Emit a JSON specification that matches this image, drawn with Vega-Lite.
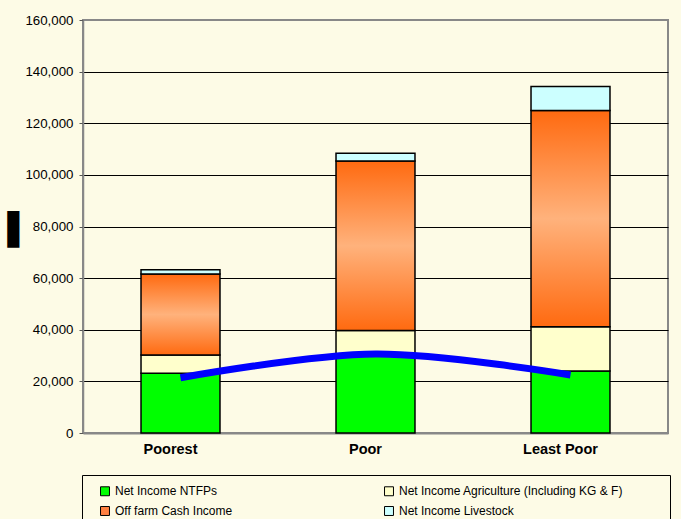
{
  "$schema": "https://vega.github.io/schema/vega-lite/v6.json",
  "autosize": "none",
  "width": 585,
  "height": 413,
  "padding": {"left": 83, "top": 20, "right": 13, "bottom": 86},
  "background": "#FDFBE6",
  "config": {
    "view": {"stroke": "#888888", "strokeWidth": 2},
    "font": "Liberation Sans, Arial, sans-serif"
  },
  "datasets": {
    "bars": [
      {"group": "Poorest", "series": "Net Income NTFPs", "k": 1, "value": 23100},
      {"group": "Poorest", "series": "Net Income Agriculture (Including KG & F)", "k": 2, "value": 7100},
      {"group": "Poorest", "series": "Off farm Cash Income", "k": 3, "value": 31400},
      {"group": "Poorest", "series": "Net Income Livestock", "k": 4, "value": 1600},
      {"group": "Poor", "series": "Net Income NTFPs", "k": 1, "value": 30000},
      {"group": "Poor", "series": "Net Income Agriculture (Including KG & F)", "k": 2, "value": 9700},
      {"group": "Poor", "series": "Off farm Cash Income", "k": 3, "value": 65700},
      {"group": "Poor", "series": "Net Income Livestock", "k": 4, "value": 3000},
      {"group": "Least Poor", "series": "Net Income NTFPs", "k": 1, "value": 24000},
      {"group": "Least Poor", "series": "Net Income Agriculture (Including KG & F)", "k": 2, "value": 17200},
      {"group": "Least Poor", "series": "Off farm Cash Income", "k": 3, "value": 83700},
      {"group": "Least Poor", "series": "Net Income Livestock", "k": 4, "value": 9300}
    ],
    "line": [
      {"group": "Poorest", "value": 21400},
      {"group": "Poor", "value": 30600},
      {"group": "Least Poor", "value": 22500}
    ]
  },
  "encoding": {
    "x": {
      "field": "group",
      "type": "nominal",
      "sort": ["Poorest", "Poor", "Least Poor"],
      "scale": {"paddingInner": 0, "paddingOuter": 0},
      "axis": {
        "title": null,
        "labelAngle": 0,
        "labelFont": "Liberation Sans, Arial, sans-serif",
        "labelFontWeight": "bold",
        "labelFontSize": 14.5,
        "labelColor": "#000000",
        "labelOffset": -10,
        "labelPadding": 9,
        "ticks": false,
        "domainColor": "#888888",
        "domainWidth": 2
      }
    }
  },
  "layer": [
    {
      "data": {"name": "bars"},
      "mark": {"type": "bar", "width": {"band": 0.405}, "stroke": "#000000", "strokeWidth": 1.5},
      "encoding": {
        "y": {
          "field": "value",
          "type": "quantitative",
          "stack": "zero",
          "scale": {"domain": [0, 160000], "nice": false},
          "axis": {
            "title": "▌",
            "titleFont": "DejaVu Sans",
            "titleFontSize": 31,
            "titleFontWeight": "normal",
            "titleColor": "#000000",
            "titleAngle": 0,
            "titleAlign": "left",
            "titleBaseline": "alphabetic",
            "titleX": -76,
            "titleY": 219,
            "values": [0, 20000, 40000, 60000, 80000, 100000, 120000, 140000, 160000],
            "format": ",.0f",
            "labelFont": "Liberation Sans, Arial, sans-serif",
            "labelFontSize": 13.3,
            "labelColor": "#000000",
            "labelPadding": 6,
            "tickSize": 4,
            "tickColor": "#555555",
            "domainColor": "#888888",
            "domainWidth": 1.5,
            "grid": true,
            "gridColor": {"condition": {"test": "datum.value === 160000 || datum.value === 0", "value": "#888888"}, "value": "#000000"},
            "gridWidth": 1
          }
        },
        "order": {"field": "k", "type": "quantitative"},
        "fill": {
          "condition": {
            "test": "datum.series === 'Off farm Cash Income'",
            "value": {
              "gradient": "linear",
              "x1": 0, "y1": 0, "x2": 0, "y2": 1,
              "stops": [
                {"offset": 0, "color": "#FF6A10"},
                {"offset": 0.5, "color": "#FFB27C"},
                {"offset": 1, "color": "#FF6A10"}
              ]
            }
          },
          "field": "series",
          "type": "nominal",
          "scale": {
            "domain": ["Net Income NTFPs", "Net Income Agriculture (Including KG & F)", "Off farm Cash Income", "Net Income Livestock"],
            "range": ["#00FF00", "#FFFFCC", "#FF8040", "#CCFFFF"]
          },
          "legend": {
            "orient": "none",
            "legendX": -1,
            "legendY": 455,
            "direction": "horizontal",
            "columns": 2,
            "columnPadding": 113,
            "rowPadding": 6,
            "title": " ",
            "titleOrient": "left",
            "titlePadding": 7,
            "padding": 10,
            "strokeColor": "#000000",
            "fillColor": "#FDFBE6",
            "symbolType": "square",
            "symbolSize": 80,
            "symbolStrokeColor": "#000000",
            "symbolStrokeWidth": 1,
            "symbolOffset": 0,
            "labelFont": "Liberation Sans, Arial, sans-serif",
            "labelFontSize": 12,
            "labelColor": "#000000",
            "labelOffset": 4,
            "labelLimit": 400,
            "labelExpr": "datum.label + '\u2800\u2800\u2800\u2800'"
          }
        }
      }
    },
    {
      "data": {"name": "line"},
      "mark": {"type": "line", "color": "#0000FF", "strokeWidth": 7, "interpolate": "catmull-rom", "strokeCap": "butt"},
      "encoding": {
        "y": {"field": "value", "type": "quantitative"}
      }
    }
  ]
}
